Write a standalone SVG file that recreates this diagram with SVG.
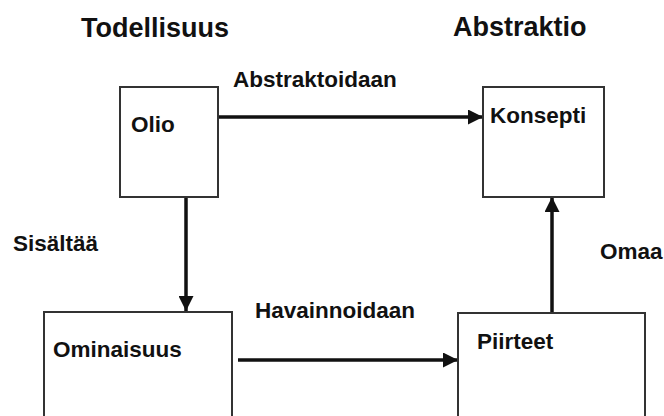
<svg xmlns="http://www.w3.org/2000/svg" width="664" height="416" viewBox="0 0 664 416">
  <style>
    .box { fill: #ffffff; stroke: #333333; stroke-width: 2; }
    .lbl { font-family: "Liberation Sans", Arial, sans-serif; font-weight: bold; font-size: 22.5px; fill: #111111; }
    .title { font-family: "Liberation Sans", Arial, sans-serif; font-weight: bold; font-size: 27px; fill: #111111; }
    .edge { stroke: #111111; stroke-width: 3.5; fill: none; marker-end: url(#head); }
  </style>
  <defs>
    <marker id="head" viewBox="0 0 10 10" refX="10" refY="5" markerUnits="userSpaceOnUse" markerWidth="16" markerHeight="15" orient="auto">
      <path d="M0,0 L10,5 L0,10 Z" fill="#111111"/>
    </marker>
  </defs>
  <rect width="664" height="416" fill="#ffffff"/>

  <!-- column headings -->
  <text class="title" x="81" y="37">Todellisuus</text>
  <text class="title" x="453" y="36">Abstraktio</text>

  <!-- connectors -->
  <g id="connectors">
    <line class="edge" x1="218" y1="117" x2="483" y2="117"/>
    <line class="edge" x1="186" y1="197" x2="186" y2="311"/>
    <line class="edge" x1="238" y1="360" x2="458" y2="360"/>
    <line class="edge" x1="552" y1="313" x2="552" y2="197"/>
    <text class="lbl" x="233" y="87">Abstraktoidaan</text>
    <text class="lbl" x="13" y="251">Sisältää</text>
    <text class="lbl" x="255" y="318">Havainnoidaan</text>
    <text class="lbl" x="600" y="259">Omaa</text>
  </g>

  <g id="olio">
    <rect class="box" x="120" y="87" width="98" height="110"/>
    <text class="lbl" x="131" y="132">Olio</text>
  </g>

  <g id="konsepti">
    <rect class="box" x="483" y="87" width="121" height="110"/>
    <text class="lbl" x="490" y="123">Konsepti</text>
  </g>

  <g id="ominaisuus">
    <rect class="box" x="44" y="312" width="188" height="120"/>
    <text class="lbl" x="53" y="357">Ominaisuus</text>
  </g>

  <g id="piirteet">
    <rect class="box" x="458" y="313" width="187" height="120"/>
    <text class="lbl" x="477" y="349">Piirteet</text>
  </g>
</svg>
